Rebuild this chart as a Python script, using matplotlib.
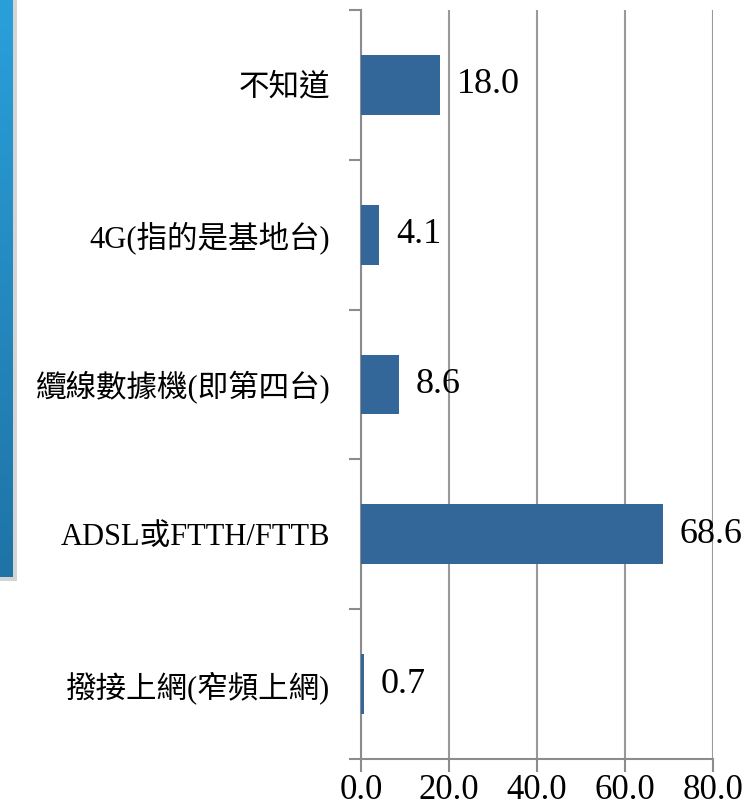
import matplotlib
matplotlib.use("Agg")
import matplotlib.pyplot as plt
import numpy as np
from matplotlib.ticker import FixedLocator
from matplotlib.colors import LinearSegmentedColormap

categories = ["不知道", "4G(指的是基地台)", "纜線數據機(即第四台)", "ADSL或FTTH/FTTB", "撥接上網(窄頻上網)"]
values = [18.0, 4.1, 8.6, 68.6, 0.7]
xticks = [0, 20, 40, 60, 80]
xtick_labels = ["0.0", "20.0", "40.0", "60.0", "80.0"]

FAM = ["Liberation Serif", "Noto Sans CJK TC", "DejaVu Sans"]
plt.rcParams['font.family'] = FAM

W, H = 756, 808
fig = plt.figure(figsize=(W/100, H/100), dpi=100)

# decorative blue strip on the left edge
shadow = fig.add_axes([0, 1 - 581/H, 17/W, 581/H])
shadow.set_axis_off()
shadow.add_patch(plt.Rectangle((0, 0), 1, 1, transform=shadow.transAxes, color="#d4d4d4"))
deco = fig.add_axes([0, 1 - 577/H, 13/W, 577/H])
grad = np.linspace(0, 1, 256).reshape(-1, 1)
cmap = LinearSegmentedColormap.from_list("b", ["#2aa0da", "#1f73a6"])
deco.imshow(grad, aspect="auto", cmap=cmap, extent=[0, 1, 1, 0])
deco.set_axis_off()

ax = fig.add_axes([361/W, 1 - 759/H, (713 - 361)/W, (759 - 10)/H])
y = np.arange(len(categories))
ax.barh(y, values, height=0.4, color="#336699", zorder=3)
ax.set_xlim(0, 80)
ax.set_ylim(len(categories) - 0.5, -0.5)

ax.set_xticks(xticks)
ax.set_xticklabels(xtick_labels, fontsize=25, family=FAM)
ax.set_yticks(y)
ax.set_yticklabels(categories, fontsize=22, family=FAM)
ax.yaxis.set_minor_locator(FixedLocator(np.arange(-0.5, len(categories), 1.0)))
ax.tick_params(axis="y", which="major", length=0, pad=22)
ax.tick_params(axis="y", which="minor", length=9, width=1.5, color="#8c8c8c")
ax.tick_params(axis="x", which="major", length=9, width=1.5, color="#8c8c8c", pad=2)

ax.grid(axis="x", color="#999999", linewidth=1.5, zorder=0)
for s in ["top", "right"]:
    ax.spines[s].set_visible(False)
for s in ["left", "bottom"]:
    ax.spines[s].set_color("#8c8c8c")
    ax.spines[s].set_linewidth(1.5)

for yi, v in zip(y, values):
    ax.annotate(f"{v:.1f}", (v, yi), xytext=(17, 0), textcoords="offset pixels",
                va="center", ha="left", fontsize=26, family=FAM)

fig.savefig("out.png", dpi=100)
